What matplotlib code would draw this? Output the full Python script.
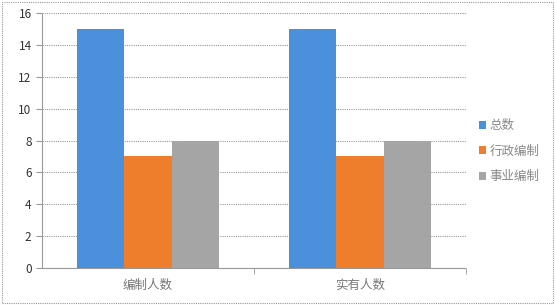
import matplotlib
matplotlib.use('Agg')
import matplotlib.pyplot as plt
import matplotlib.patches as mpatches
import numpy as np

plt.rcParams['font.family'] = ['Noto Sans CJK SC', 'DejaVu Sans']

categories = ['编制人数', '实有人数']
series_names = ['总数', '行政编制', '事业编制']
total = [15, 15]
admin = [7, 7]
inst = [8, 8]
colors = ['#4A90DA', '#EE7D2C', '#A5A5A5']

fig = plt.figure(figsize=(5.55, 3.05), dpi=100)
ax = fig.add_axes([0.0757, 0.1213, 0.764, 0.836])

x = np.arange(len(categories))
w = 0.222
for i, (vals, name, c) in enumerate(zip([total, admin, inst], series_names, colors)):
    ax.bar(x + (i - 1) * w, vals, width=w, color=c, label=name, zorder=3)

ax.set_xlim(-0.5, 1.5)
ax.set_ylim(0, 16)
ax.set_yticks(range(0, 17, 2))
ax.set_xticks(x)
ax.set_xticklabels(categories, color='#777777', fontsize=9)
ax.set_xticks([0.5, 1.5], minor=True)
ax.tick_params(axis='x', which='major', length=0, pad=8)
ax.tick_params(axis='x', which='minor', length=4, color='#999999')
ax.tick_params(axis='y', labelsize=8.5, length=4, color='#999999', labelcolor='#333333')
ax.grid(axis='y', color='#999999', linestyle=(0, (1, 1)), linewidth=0.8, zorder=0)
for s in ['top', 'right']:
    ax.spines[s].set_visible(False)
ax.spines['left'].set_color('#999999')
ax.spines['left'].set_linestyle((0, (1, 1)))
ax.spines['bottom'].set_color('#999999')
ax.spines['bottom'].set_linestyle((0, (1, 1)))

leg = fig.legend(loc='center left', bbox_to_anchor=(0.842, 0.505), frameon=False,
                 fontsize=9, handlelength=0.6, handleheight=0.6, handletextpad=0.3,
                 labelspacing=1.0)
for t in leg.get_texts():
    t.set_color('#888888')

fig.patches.append(mpatches.Rectangle((0.003, 0.005), 0.994, 0.99, transform=fig.transFigure,
                                      fill=False, edgecolor='#999999', linestyle=(0, (1, 1)),
                                      linewidth=0.8))

fig.savefig('out.png', dpi=100)
